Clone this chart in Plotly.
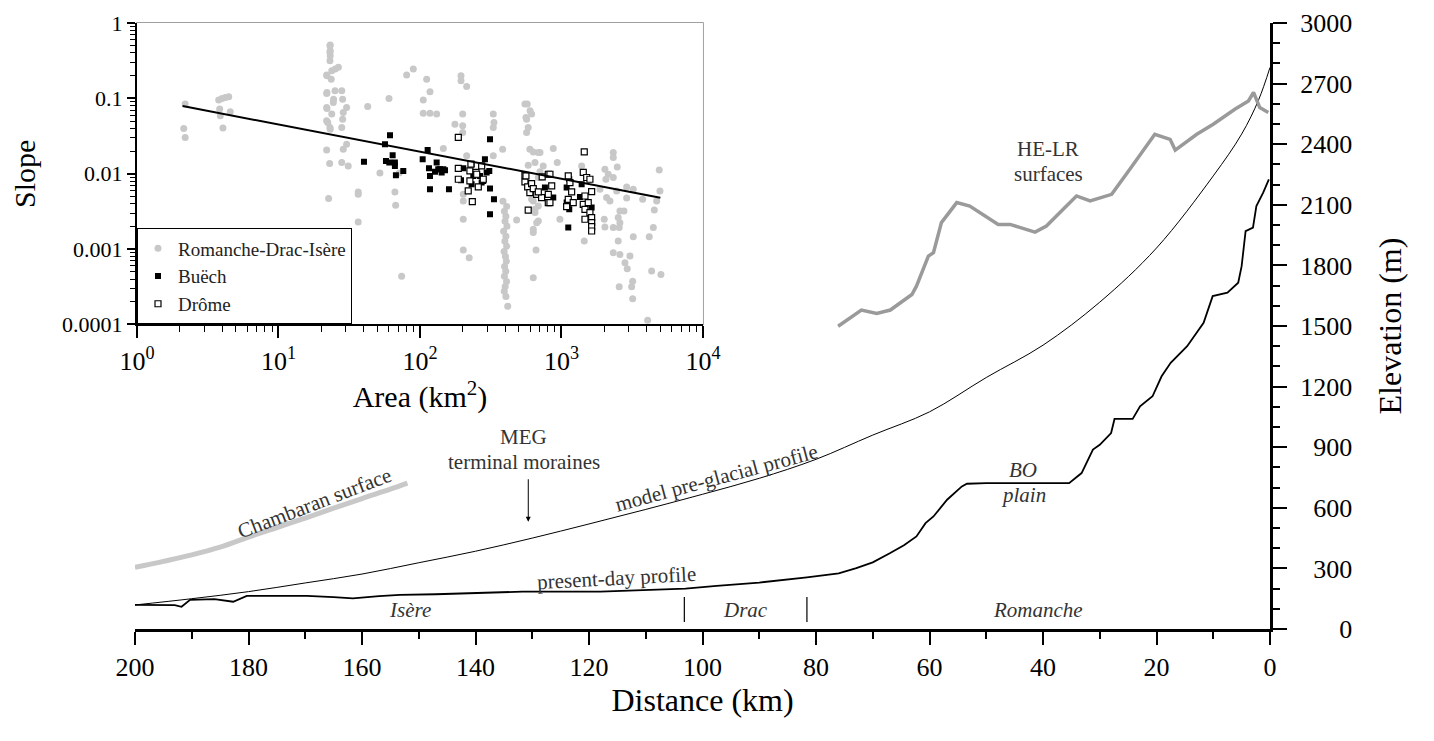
import plotly.graph_objects as go

FONT = "Liberation Serif, Times New Roman, Tinos, DejaVu Serif, serif"

# ---------------- main profile data (distance km, elevation m) ----------------
present_km = [200, 193, 191.8, 190.3, 186, 182.7, 180.3, 175, 169.7, 165,
              161.6, 157, 153.3, 147, 141.6, 136, 131.7, 118, 109.3, 103,
              97.5, 90, 81.6, 76, 72.9, 70, 67, 64.5, 62.3, 60.7,
              59.3, 56.9, 54.3, 53.4, 50, 45, 40, 35.4, 33.2, 31.2,
              30, 28, 27.4, 24.2, 22.9, 20.7, 19.1, 17.5, 14.6, 11.7,
              10.1, 7.5, 5.6, 5.0, 4.3, 3.0, 2.4, 1.2, 0.2]
present_elev = [119, 118, 110, 144, 148, 135, 164, 165, 164, 158,
                152, 163, 169, 172, 177, 181, 185, 185, 193, 200,
                213, 230, 256, 275, 301, 330, 375, 415, 458, 524,
                557, 640, 706, 719, 722, 722, 722, 722, 772, 888,
                912, 970, 1040, 1040, 1102, 1152, 1251, 1318, 1400, 1516,
                1648, 1665, 1714, 1796, 1970, 1987, 2094, 2160, 2226]

preglacial_km = [200, 190, 180, 170, 160, 150, 140, 130, 120, 110, 100, 90,
                 80, 70, 60, 50, 40, 30, 20, 10, 5, 2, 0]
preglacial_elev = [119, 150, 185, 228, 272, 328, 385, 450, 520, 592, 667, 746,
                   840, 960, 1075, 1245, 1405, 1618, 1886, 2243, 2450, 2620, 2780]

chambaran_km = [200, 195, 190, 185, 180, 175, 170, 165, 160, 155, 152]
chambaran_elev = [305, 335, 367, 405, 455, 502, 549, 598, 646, 692, 722]

helr_km = [76.1, 72.0, 69.3, 66.9, 63.1, 62.3, 60.2, 59.3, 57.9, 55.2,
           52.9, 47.9, 45.8, 41.4, 39.4, 34.1, 31.7, 27.9, 24.7, 22.0,
           20.3, 17.6, 16.7, 12.9, 10.0, 6.2, 3.8, 2.9, 1.8, 0.3]
helr_elev = [1499, 1579, 1562, 1579, 1656, 1697, 1846, 1863, 2012, 2111,
             2094, 2003, 2003, 1965, 1995, 2144, 2119, 2152, 2276, 2383,
             2449, 2424, 2371, 2449, 2499, 2573, 2614, 2656, 2581, 2557]

river_boundaries_km = [103.2, 81.6]

x_ticks = [200, 180, 160, 140, 120, 100, 80, 60, 40, 20, 0]
y_ticks = [0, 300, 600, 900, 1200, 1500, 1800, 2100, 2400, 2700, 3000]

# ---------------- inset slope-area data ----------------
area_rdi = [2.19, 2.14, 2.19, 3.78, 3.99, 4.21, 4.45, 3.84, 3.88, 4.56, 4.05,
            23.2, 23.2, 23.2, 23.1, 23.1, 23.1, 23.8, 21.9, 26.5, 22.0, 23.6, 25.2, 22.0,
            24.5, 21.9, 25.1, 28.0, 28.4, 24.4, 21.9, 30.3, 28.7, 23.8, 22.0, 21.9,
            28.4, 28.0, 23.1, 22.3, 23.2, 30.3, 28.7, 21.9, 23.0, 28.0, 31.1, 22.6,
            42.7, 60.4, 80.5, 89.7, 111.5, 117.7, 105.5, 105.5, 117.7, 131.2, 146.2,
            52.1, 71.4, 66.5, 67.3, 36.6, 36.6, 36.6, 74.2,
            195, 195, 213.8, 200.4, 176.6, 200.4, 200.4, 213.8, 202.3, 202.3, 202.3,
            202.3, 222.8,
            329.6, 333.4, 329.6, 384, 329.6,
            386, 410, 395, 405, 399, 412, 390, 405, 398, 410, 393, 402, 408, 396, 404,
            395, 409, 400, 394, 405, 417,
            482,
            573, 615, 567, 582, 567, 598, 632, 686, 650, 582, 705, 686, 598, 632, 686,
            650, 686, 632, 661, 632,
            552, 600, 561, 705, 743, 875, 934, 724, 615, 650, 668, 632, 975, 1389, 1449,
            2323, 2323, 2479, 2028, 2141, 2061, 2323, 1871, 2084, 2201, 2455, 2889,
            3217, 2889, 3748, 4910, 4966, 4708, 4529, 2588, 2765, 2518, 2006, 2028,
            2323, 2559, 2588, 3217, 4172, 4457, 2518, 2323, 2588, 3048, 2810, 2917,
            4338, 5047, 3186, 2559, 3133, 3186, 4065]
slope_rdi = [0.0839, 0.0399, 0.0303, 0.0948, 0.0998, 0.103, 0.105, 0.0720, 0.0586, 0.0662, 0.0406,
             0.511, 0.428, 0.368, 0.316, 0.499, 0.408, 0.232, 0.204, 0.258, 0.199, 0.180, 0.245, 0.120,
             0.0977, 0.116, 0.126, 0.126, 0.0977, 0.0883, 0.0759, 0.0759, 0.0650, 0.0618, 0.0735, 0.0504,
             0.0530, 0.0411, 0.0411, 0.0479, 0.0390, 0.0247, 0.0212, 0.0207, 0.0137, 0.0141, 0.0127, 0.00468,
             0.0782, 0.0998, 0.204, 0.245, 0.180, 0.122, 0.0948, 0.0637, 0.0637, 0.0618, 0.0216,
             0.0102, 0.0102, 0.00573, 0.00381, 0.00573, 0.00534, 0.00229, 0.000438,
             0.199, 0.171, 0.144, 0.0618, 0.0455, 0.0432, 0.0353, 0.0173, 0.00534, 0.00435, 0.00249,
             0.000971, 0.000770,
             0.0618, 0.0479, 0.0411, 0.0212, 0.0173,
             0.00430, 0.00369, 0.00317, 0.00272, 0.00234, 0.00201, 0.00172, 0.00148, 0.00127, 0.00109,
             0.000932, 0.000801, 0.000688, 0.000590, 0.000507, 0.000435, 0.000373, 0.000320, 0.000275,
             0.000236, 0.000174,
             0.00243,
             0.0839, 0.0618, 0.0530, 0.0411, 0.0353, 0.0212, 0.0195, 0.0191, 0.0141, 0.0130, 0.0106,
             0.00891, 0.00562, 0.00435, 0.00373, 0.00305, 0.00236, 0.00166, 0.000971, 0.000417,
             0.0839, 0.0684, 0.0558, 0.0191, 0.0127, 0.0216, 0.0141, 0.00891, 0.00458, 0.00337, 0.00224,
             0.00183, 0.00249, 0.0127, 0.00128,
             0.0191, 0.0164, 0.0123, 0.0115, 0.00985, 0.00845, 0.00891, 0.00622, 0.00483, 0.00435,
             0.00591, 0.00668, 0.00622, 0.00475, 0.00458, 0.0112, 0.00591, 0.00435, 0.00330, 0.00320,
             0.00320, 0.00262, 0.00249, 0.00196, 0.00193, 0.00193, 0.00224, 0.00146, 0.00146, 0.00193,
             0.00128, 0.000897, 0.000851, 0.000809, 0.000660, 0.000550, 0.000511, 0.000461, 0.000376,
             0.000317, 0.000317, 0.000220, 0.000114]

area_buech = [40.2, 56.6, 61.4, 57.5, 64.1, 66.5, 67.6, 76.2, 60.7, 66.5,
              113.3, 104.5, 115.8, 117.7, 117.7, 160.3, 131.2, 134.6, 142.3, 150.3, 127.7, 138.4, 146.2,
              202.3, 231.7, 195, 238.2, 231.7, 265.5, 280, 296, 309, 287.8, 312.6, 312.6, 333.4, 312.6, 272.9,
              764, 875, 1088, 1088, 1135, 1117, 1389, 1351, 1135, 1634]
slope_buech = [0.0144, 0.0247, 0.0325, 0.0148, 0.0176, 0.0141, 0.00955, 0.0109, 0.0141, 0.0127,
               0.0207, 0.0156, 0.0118, 0.00935, 0.00622, 0.00622, 0.0141, 0.0115, 0.0104, 0.0111, 0.0106, 0.0115, 0.0115,
               0.0118, 0.0134, 0.00820, 0.00935, 0.00725, 0.00935, 0.00802, 0.0104, 0.0109, 0.0156, 0.0287, 0.00636, 0.00458, 0.00290, 0.00764,
               0.00656, 0.00483, 0.00656, 0.00414, 0.00337, 0.00193, 0.00725, 0.00492, 0.00845, 0.00356]

area_drome = [186.6, 186.6, 186.6, 225.4, 225.4, 219.3, 234.4, 258.3, 248.9, 272.9, 280, 229.1, 251.7,
              552, 552, 577, 615, 598, 668, 724, 582, 731, 807, 807,
              561, 632, 686, 829, 829, 853, 807, 1117, 1148, 1180, 1117, 1211, 1088,
              1449, 1426, 1507, 1589, 1634, 1466, 1426, 1546, 1466, 1589, 1466, 1634, 1634, 1634, 1634]
slope_drome = [0.0303, 0.0118, 0.00845, 0.0109, 0.00802, 0.00591, 0.00427, 0.00668, 0.0104, 0.0127, 0.00845, 0.0134, 0.00985,
               0.00955, 0.00778, 0.00668, 0.00741, 0.00562, 0.00534, 0.00483, 0.00330, 0.00906, 0.00985, 0.00414,
               0.00935, 0.00636, 0.00573, 0.00414, 0.00985, 0.00689, 0.00534, 0.00935, 0.00764, 0.00573, 0.00458, 0.00414, 0.00366,
               0.0195, 0.0104, 0.00891, 0.00845, 0.00580, 0.00507, 0.00393, 0.00414, 0.00337, 0.00305, 0.00249, 0.00262, 0.00224, 0.00199, 0.00174]

fit_area = [2.1, 5000]
fit_slope = [0.079, 0.0048]

inset_x_ticks = [1, 10, 100, 1000, 10000]
inset_x_labels = ["10<sup>0</sup>", "10<sup>1</sup>", "10<sup>2</sup>", "10<sup>3</sup>", "10<sup>4</sup>"]
inset_y_ticks = [0.0001, 0.001, 0.01, 0.1, 1]
inset_y_labels = ["0.0001", "0.001", "0.01", "0.1", "1"]

# ---------------- figure ----------------
fig = go.Figure()

fig.add_trace(go.Scatter(x=chambaran_km, y=chambaran_elev, mode="lines",
                         line=dict(color="#c8c8c8", width=5, shape="spline"),
                         showlegend=False, xaxis="x", yaxis="y", hoverinfo="skip"))
fig.add_trace(go.Scatter(x=preglacial_km, y=preglacial_elev, mode="lines",
                         line=dict(color="black", width=1, shape="spline"),
                         showlegend=False, xaxis="x", yaxis="y"))
fig.add_trace(go.Scatter(x=helr_km, y=helr_elev, mode="lines",
                         line=dict(color="#9a9a9a", width=3.5),
                         showlegend=False, xaxis="x", yaxis="y"))
fig.add_trace(go.Scatter(x=present_km, y=present_elev, mode="lines",
                         line=dict(color="black", width=1.8),
                         showlegend=False, xaxis="x", yaxis="y"))

# inset
fig.add_trace(go.Scatter(x=area_rdi, y=slope_rdi, mode="markers", name="Romanche-Drac-Isère",
                         marker=dict(symbol="circle", size=7, color="#c8c8c8"),
                         xaxis="x2", yaxis="y2"))
fig.add_trace(go.Scatter(x=area_buech, y=slope_buech, mode="markers", name="Buëch",
                         marker=dict(symbol="square", size=6, color="black"),
                         xaxis="x2", yaxis="y2"))
fig.add_trace(go.Scatter(x=area_drome, y=slope_drome, mode="markers", name="Drôme",
                         marker=dict(symbol="square", size=6, color="white",
                                     line=dict(color="black", width=1.2)),
                         xaxis="x2", yaxis="y2"))
fig.add_trace(go.Scatter(x=fit_area, y=fit_slope, mode="lines",
                         line=dict(color="black", width=2), showlegend=False,
                         xaxis="x2", yaxis="y2"))

# minor tick positions for log axes
minor_x = [m * 10 ** k for k in range(0, 4) for m in range(2, 10)]
minor_y = [m * 10.0 ** k for k in range(-4, 0) for m in range(2, 10)]

fig.update_layout(
    width=1426, height=733, autosize=False,
    margin=dict(l=127, r=164, t=15, b=112),
    paper_bgcolor="white", plot_bgcolor="white",
    font=dict(family=FONT, color="black"),
    xaxis=dict(domain=[0, 1], range=[200, 0], anchor="y", automargin=False,
               showline=True, linewidth=3, linecolor="black",
               ticks="outside", ticklen=13, tickwidth=2, tickcolor="black",
               tickvals=x_ticks, ticktext=[str(v) for v in x_ticks],
               minor=dict(ticks="outside", dtick=10, tick0=0, ticklen=7, tickwidth=1.5, tickcolor="black"),
               tickfont=dict(family=FONT, size=26, color="black"),
               title=dict(text="Distance (km)", font=dict(family=FONT, size=32, color="black"), standoff=7),
               showgrid=False, zeroline=False),
    yaxis=dict(domain=[0, 1], range=[0, 3000], anchor="x", side="right", automargin=False,
               showline=True, linewidth=3, linecolor="black",
               ticks="outside", ticklen=14, tickwidth=2, tickcolor="black",
               tickvals=y_ticks, ticktext=[str(v).rjust(4, "\u2007") for v in y_ticks],
               ticklabelstandoff=8,
               minor=dict(ticks="outside", dtick=100, tick0=0, ticklen=7, tickwidth=1.5, tickcolor="black"),
               tickfont=dict(family=FONT, size=26, color="black"),
               title=dict(text="Elevation (m)", font=dict(family=FONT, size=32, color="black"), standoff=28),
               showgrid=False, zeroline=False),
    xaxis2=dict(type="log", domain=[0.00176, 0.5004], range=[0, 4], anchor="y2", automargin=False,
                showline=True, linewidth=2, linecolor="black",
                ticks="outside", ticklen=12, tickwidth=1.5, tickcolor="black",
                tickvals=inset_x_ticks, ticktext=inset_x_labels,
                minor=dict(ticks="outside", tickmode="array", tickvals=minor_x, ticklen=6, tickwidth=1, tickcolor="black"),
                tickfont=dict(family=FONT, size=26, color="black"),
                title=dict(text="Area (km<sup>2</sup>)", font=dict(family=FONT, size=30, color="black"), standoff=1),
                showgrid=False, zeroline=False),
    yaxis2=dict(type="log", domain=[0.5025, 1], range=[-4, 0], anchor="x2", automargin=False,
                showline=True, linewidth=2, linecolor="black",
                ticks="outside", ticklen=8, tickwidth=1.5, tickcolor="black",
                tickvals=inset_y_ticks, ticktext=inset_y_labels,
                minor=dict(ticks="outside", tickmode="array", tickvals=minor_y, ticklen=5, tickwidth=1, tickcolor="black"),
                tickfont=dict(family=FONT, size=22, color="black"),
                title=dict(text="Slope", font=dict(family=FONT, size=30, color="black"), standoff=28),
                showgrid=False, zeroline=False),
    legend=dict(x=0.00176, y=0.5025, xanchor="left", yanchor="bottom",
                bordercolor="black", borderwidth=1, bgcolor="white",
                font=dict(family=FONT, size=19, color="#222222"),
                tracegroupgap=0, itemwidth=30),
    showlegend=True,
)

# inset frame (thin grey box)
fig.add_shape(type="rect", xref="x2 domain", yref="y2 domain", x0=0, x1=1, y0=0, y1=1,
              line=dict(color="#808080", width=1.5), layer="below")

# river boundary markers
for b in river_boundaries_km:
    fig.add_shape(type="line", xref="x", yref="y", x0=b, x1=b, y0=35, y1=159,
                  line=dict(color="black", width=1.2))

ann_font = dict(family=FONT, size=21, color="#333333")
ital_font = dict(family=FONT, size=21, color="#333333", style="italic")
annotations = [
    dict(x=168.3, y=625, text="Chambaran surface", textangle=-21, font=ann_font),
    dict(x=131.5, y=952, text="MEG", font=ann_font),
    dict(x=131.5, y=828, text="terminal moraines", font=ann_font),
    dict(x=97.6, y=749, text="model pre-glacial profile", textangle=-15, font=ann_font),
    dict(x=115.1, y=253, text="present-day profile", textangle=-3, font=ann_font),
    dict(x=39.1, y=2375, text="HE-LR", font=ann_font),
    dict(x=39.1, y=2251, text="surfaces", font=ann_font),
    dict(x=43.5, y=788, text="BO", font=ital_font),
    dict(x=43.5, y=664, text="plain", font=ital_font),
    dict(x=151.5, y=94, text="Isère", font=ital_font),
    dict(x=92.5, y=94, text="Drac", font=ital_font),
    dict(x=40.9, y=94, text="Romanche", font=ital_font),
]
for a in annotations:
    fig.add_annotation(xref="x", yref="y", showarrow=False, **a)

# MEG arrow
fig.add_annotation(xref="x", yref="y", x=130.7, y=531, text="", showarrow=True,
                   ax=0, ay=-44, arrowhead=2, arrowsize=1, arrowwidth=1, arrowcolor="black")

fig.write_html("out.html")
